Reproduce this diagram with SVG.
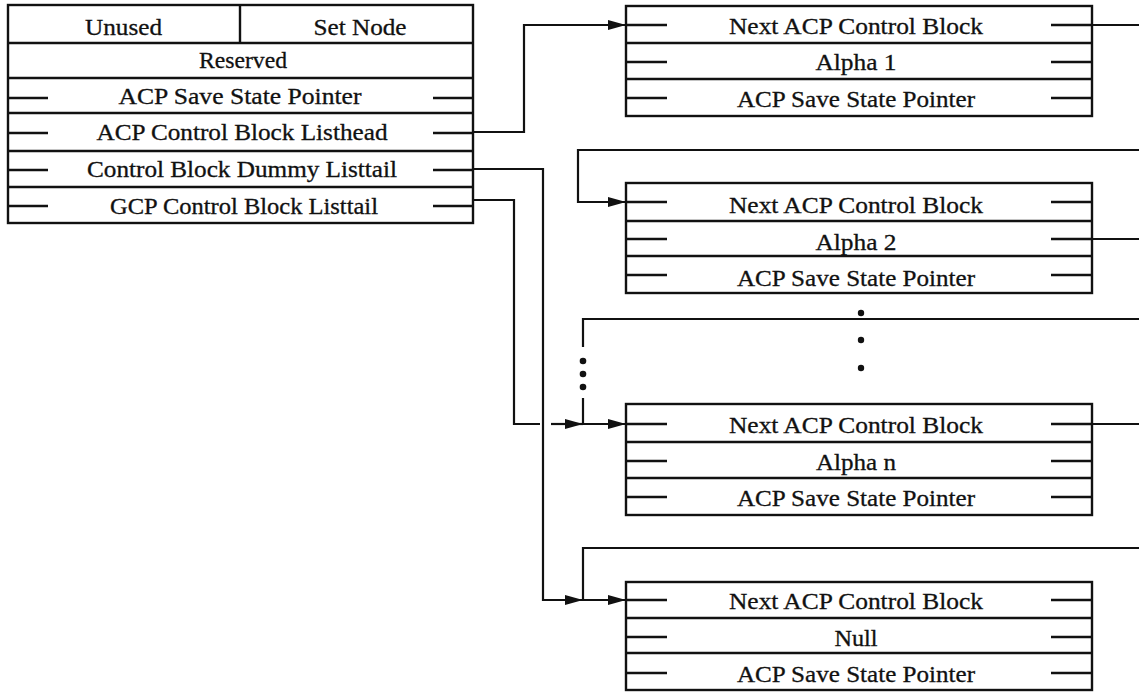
<svg xmlns="http://www.w3.org/2000/svg" width="1139" height="692" viewBox="0 0 1139 692">
<style>
.box{fill:#fff;stroke:#111;stroke-width:2.4}
.ln{fill:none;stroke:#111;stroke-width:2.4}
.st{stroke:#111;stroke-width:2.6}
.c{fill:none;stroke:#111;stroke-width:2.2}
.t{font-family:"Liberation Serif","Times New Roman",serif;font-size:23px;fill:#111;text-anchor:middle;stroke:#111;stroke-width:0.3}
.dot{fill:#111}
</style>
<defs>
<marker id="arr" markerWidth="18" markerHeight="11" refX="18" refY="5.5" orient="auto" markerUnits="userSpaceOnUse">
<path d="M0,0.5 L18,5.5 L0,10.5 Z" fill="#111"/>
</marker>
</defs>

<g id="header">
<rect class="box" x="8" y="5" width="465" height="218"/>
<path class="ln" d="M8 43H473M8 78H473M8 113H473M8 151H473M8 187H473M240 5V43"/>
<path class="st" d="M8 98H48M433 98H473M8 133H48M433 133H473M8 170H48M433 170H473M8 206H48M433 206H473"/>
<text class="t" x="123.5" y="35" textLength="77" lengthAdjust="spacingAndGlyphs">Unused</text>
<text class="t" x="360" y="35" textLength="93" lengthAdjust="spacingAndGlyphs">Set Node</text>
<text class="t" x="243" y="68" textLength="88" lengthAdjust="spacingAndGlyphs">Reserved</text>
<text class="t" x="240" y="104" textLength="243" lengthAdjust="spacingAndGlyphs">ACP Save State Pointer</text>
<text class="t" x="242" y="140" textLength="291" lengthAdjust="spacingAndGlyphs">ACP Control Block Listhead</text>
<text class="t" x="242" y="177" textLength="310" lengthAdjust="spacingAndGlyphs">Control Block Dummy Listtail</text>
<text class="t" x="244" y="214" textLength="268" lengthAdjust="spacingAndGlyphs">GCP Control Block Listtail</text>
</g>

<g id="block1">
<rect class="box" x="626" y="6" width="466" height="110"/>
<path class="ln" d="M626 43H1092M626 79H1092"/>
<path class="st" d="M626 25H667M1051 25H1092M626 62H667M1051 62H1092M626 98H667M1051 98H1092"/>
<text class="t" x="856" y="34" textLength="254" lengthAdjust="spacingAndGlyphs">Next ACP Control Block</text>
<text class="t" x="856" y="70" textLength="81" lengthAdjust="spacingAndGlyphs">Alpha 1</text>
<text class="t" x="856" y="107" textLength="238" lengthAdjust="spacingAndGlyphs">ACP Save State Pointer</text>
</g>

<g id="block2">
<rect class="box" x="626" y="183" width="466" height="110"/>
<path class="ln" d="M626 221H1092M626 256H1092"/>
<path class="st" d="M626 202H667M1051 202H1092M626 239H667M1051 239H1092M626 275H667M1051 275H1092"/>
<text class="t" x="856" y="213" textLength="254" lengthAdjust="spacingAndGlyphs">Next ACP Control Block</text>
<text class="t" x="856" y="250" textLength="81" lengthAdjust="spacingAndGlyphs">Alpha 2</text>
<text class="t" x="856" y="286" textLength="238" lengthAdjust="spacingAndGlyphs">ACP Save State Pointer</text>
</g>

<g id="ellipsis">
<circle class="dot" cx="861" cy="313" r="3.2"/>
<circle class="dot" cx="861" cy="340" r="3.2"/>
<circle class="dot" cx="861" cy="368" r="3.2"/>
</g>

<g id="blockn">
<rect class="box" x="626" y="404" width="466" height="111"/>
<path class="ln" d="M626 442H1092M626 478H1092"/>
<path class="st" d="M626 424H667M1051 424H1092M626 461H667M1051 461H1092M626 497H667M1051 497H1092"/>
<text class="t" x="856" y="433" textLength="254" lengthAdjust="spacingAndGlyphs">Next ACP Control Block</text>
<text class="t" x="856" y="470" textLength="80" lengthAdjust="spacingAndGlyphs">Alpha n</text>
<text class="t" x="856" y="506" textLength="238" lengthAdjust="spacingAndGlyphs">ACP Save State Pointer</text>
</g>

<g id="blocknull">
<rect class="box" x="626" y="582" width="466" height="108"/>
<path class="ln" d="M626 618H1092M626 653H1092"/>
<path class="st" d="M626 600H667M1051 600H1092M626 637H667M1051 637H1092M626 673H667M1051 673H1092"/>
<text class="t" x="856" y="609" textLength="254" lengthAdjust="spacingAndGlyphs">Next ACP Control Block</text>
<text class="t" x="856" y="646" textLength="43" lengthAdjust="spacingAndGlyphs">Null</text>
<text class="t" x="856" y="682" textLength="238" lengthAdjust="spacingAndGlyphs">ACP Save State Pointer</text>
</g>

<g id="connectors">
<path class="c" d="M473 132H524V25H626" marker-end="url(#arr)"/>
<path class="c" d="M1092 25H1139"/>
<path class="c" d="M1139 150H578V202H626" marker-end="url(#arr)"/>
<path class="c" d="M1092 239H1139"/>
<path class="c" d="M1139 319H583V347"/>
<circle class="dot" cx="583" cy="361" r="3.3"/>
<circle class="dot" cx="583" cy="374" r="3.3"/>
<circle class="dot" cx="583" cy="387" r="3.3"/>
<path class="c" d="M583 398V424"/>
<path class="c" d="M473 200H514V424H540"/>
<path class="c" d="M551 424H583" marker-end="url(#arr)"/>
<path class="c" d="M583 424H626" marker-end="url(#arr)"/>
<path class="c" d="M1092 424H1139"/>
<path class="c" d="M473 169H543V600H583" marker-end="url(#arr)"/>
<path class="c" d="M583 600H626" marker-end="url(#arr)"/>
<path class="c" d="M1139 548H583V600"/>
</g>
</svg>
